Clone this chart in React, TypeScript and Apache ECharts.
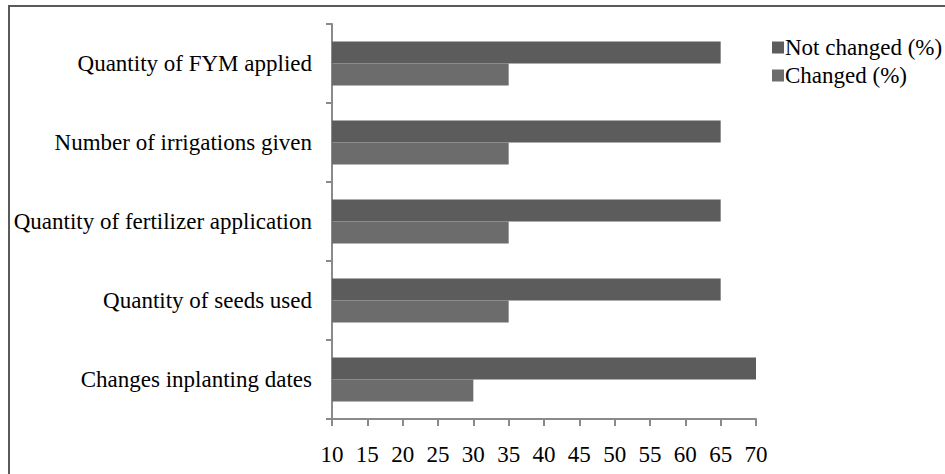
import React, { useEffect, useRef } from "react";
import * as echarts from "echarts";

const categories = [
  "Changes inplanting dates",
  "Quantity of seeds used",
  "Quantity of fertilizer application",
  "Number of irrigations given",
  "Quantity of FYM applied",
];
const notChanged = [70, 65, 65, 65, 65];
const changed = [30, 35, 35, 35, 35];
const legendNames = ["Not changed (%)", "Changed (%)"];

const FONT = "Liberation Serif";

export default function App() {
  const ref = useRef<HTMLDivElement>(null);

  useEffect(() => {
    if (!ref.current) return;
    const chart = echarts.init(ref.current, undefined, { renderer: "svg" });
    chart.setOption({
      animation: false,
      backgroundColor: "#ffffff",
      textStyle: { fontFamily: FONT },
      graphic: [
        {
          type: "rect",
          shape: { x: 9, y: 6, width: 960, height: 490 },
          style: { fill: "none", stroke: "#5a5a5a", lineWidth: 2 },
          silent: true,
        },
      ],
      legend: {
        orient: "vertical",
        left: 767,
        top: 31,
        itemWidth: 12,
        itemHeight: 12,
        itemGap: 5,
        icon: "rect",
        data: legendNames,
        textStyle: { fontFamily: FONT, fontSize: 23, color: "#000", padding: [0, 0, 0, -4] },
      },
      grid: { left: 332, right: 189, top: 24, bottom: 55 },
      xAxis: {
        type: "value",
        min: 10,
        max: 70,
        interval: 5,
        splitLine: { show: false },
        axisLine: { show: true, lineStyle: { color: "#8a8a8a", width: 2 } },
        axisTick: { show: true, length: 7, lineStyle: { color: "#8a8a8a", width: 2 } },
        axisLabel: { fontFamily: FONT, fontSize: 23, color: "#000", margin: 24 },
      },
      yAxis: {
        type: "category",
        data: categories,
        axisLine: { show: true, lineStyle: { color: "#8a8a8a", width: 2 } },
        axisTick: { show: true, length: 6, lineStyle: { color: "#8a8a8a", width: 2 } },
        axisLabel: { fontFamily: FONT, fontSize: 23, color: "#000", margin: 20 },
      },
      series: [
        {
          name: legendNames[0],
          type: "bar",
          data: notChanged,
          barWidth: 22,
          barGap: "0%",
          itemStyle: { color: "#5c5c5c" },
        },
        {
          name: legendNames[1],
          type: "bar",
          data: changed,
          barWidth: 22,
          barGap: "0%",
          itemStyle: { color: "#6c6c6c" },
        },
      ],
    });
    return () => chart.dispose();
  }, []);

  return (
    <div
      ref={ref}
      style={{ position: "fixed", left: 0, top: 0, width: 945, height: 474 }}
    />
  );
}
